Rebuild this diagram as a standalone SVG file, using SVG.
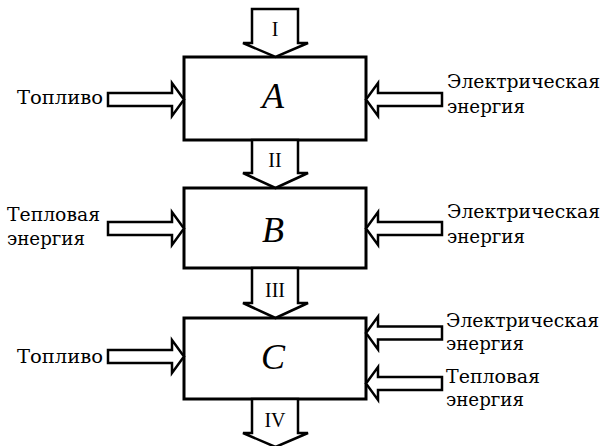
<svg xmlns="http://www.w3.org/2000/svg" width="604" height="446" viewBox="0 0 604 446">
<style>
.box{fill:#fff;stroke:#000;stroke-width:3}
.arr{fill:#fff;stroke:#000;stroke-width:2.5;stroke-linejoin:miter}
.lbl{font-family:"DejaVu Serif","Liberation Serif",serif;font-size:19px;fill:#000}
.num{font-family:"Liberation Serif",serif;font-size:20px;fill:#000;text-anchor:middle}
.big{font-family:"Liberation Serif",serif;font-size:36px;font-style:italic;fill:#000;text-anchor:middle}
</style>
<rect width="604" height="446" fill="#fff"/>
<g id="nodeA">
<rect class="box" x="184" y="57" width="182" height="83"/>
<text class="big" x="273" y="108">A</text>
</g>
<g id="nodeB">
<rect class="box" x="184" y="188" width="182" height="80"/>
<text class="big" x="273" y="242">B</text>
</g>
<g id="nodeC">
<rect class="box" x="184" y="318" width="182" height="81"/>
<text class="big" x="273" y="369">C</text>
</g>
<g id="connectors">
<path class="arr" d="M252,9 H298 V43 H308 L275.5,57 L243,43 H252 Z"/>
<path class="arr" d="M252,140 H298 V173 H308 L275.5,188 L243,173 H252 Z"/>
<path class="arr" d="M252,268 H298 V303 H308 L275.5,318 L243,303 H252 Z"/>
<path class="arr" d="M252,399 H298 V433 H308 L275.5,447 L243,433 H252 Z"/>
<path class="arr" d="M108,93 H172 V83 L184,99.5 L172,116 V106 H108 Z"/>
<path class="arr" d="M108,222 H172 V212 L184,228.5 L172,245 V235 H108 Z"/>
<path class="arr" d="M108,350 H172 V340 L184,356.5 L172,373 V363 H108 Z"/>
<path class="arr" d="M442,93 H378 V83 L366,99.5 L378,116 V106 H442 Z"/>
<path class="arr" d="M442,222 H378 V212 L366,228.5 L378,245 V235 H442 Z"/>
<path class="arr" d="M442,326.5 H378 V316.5 L366,333 L378,349.5 V339.5 H442 Z"/>
<path class="arr" d="M442,377 H378 V367 L366,383.5 L378,400 V390 H442 Z"/>
</g>
<g id="labels">
<text class="num" x="275" y="36">I</text>
<text class="num" x="275" y="167">II</text>
<text class="num" x="275" y="297">III</text>
<text class="num" x="275" y="427">IV</text>
<text class="lbl" x="17" y="104" textLength="86" lengthAdjust="spacingAndGlyphs">Топливо</text>
<text class="lbl" x="447" y="88" textLength="153" lengthAdjust="spacingAndGlyphs">Электрическая</text>
<text class="lbl" x="447" y="113" textLength="78" lengthAdjust="spacingAndGlyphs">энергия</text>
<text class="lbl" x="7" y="221" textLength="93" lengthAdjust="spacingAndGlyphs">Тепловая</text>
<text class="lbl" x="7" y="245" textLength="78" lengthAdjust="spacingAndGlyphs">энергия</text>
<text class="lbl" x="447" y="218" textLength="153" lengthAdjust="spacingAndGlyphs">Электрическая</text>
<text class="lbl" x="447" y="243" textLength="78" lengthAdjust="spacingAndGlyphs">энергия</text>
<text class="lbl" x="17" y="363" textLength="86" lengthAdjust="spacingAndGlyphs">Топливо</text>
<text class="lbl" x="446" y="327" textLength="153" lengthAdjust="spacingAndGlyphs">Электрическая</text>
<text class="lbl" x="446" y="350" textLength="78" lengthAdjust="spacingAndGlyphs">энергия</text>
<text class="lbl" x="446" y="383" textLength="94" lengthAdjust="spacingAndGlyphs">Тепловая</text>
<text class="lbl" x="446" y="406" textLength="78" lengthAdjust="spacingAndGlyphs">энергия</text>
</g>
</svg>
